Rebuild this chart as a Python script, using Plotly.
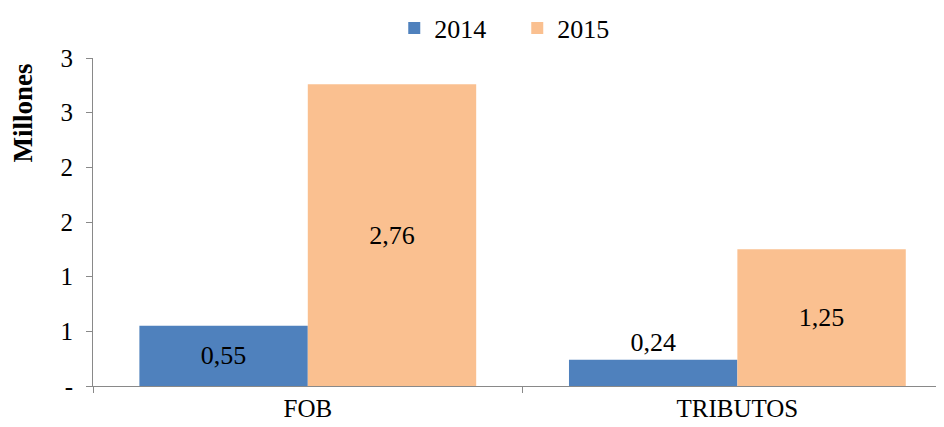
import plotly.graph_objects as go

categories = ["FOB", "TRIBUTOS"]
series_names = ["2014", "2015"]
values_2014 = [0.55, 0.24]
values_2015 = [2.76, 1.25]
labels_2014 = ["0,55", "0,24"]
labels_2015 = ["2,76", "1,25"]
y_tickvals = [0, 0.5, 1, 1.5, 2, 2.5, 3]
y_ticktext = ["-", "1", "1", "2", "2", "3", "3"]

FONT = "Liberation Serif"
LBL = 26

fig = go.Figure()
fig.add_trace(go.Bar(
    x=categories, y=values_2014, name=series_names[0],
    marker=dict(color="#4F81BD", line=dict(width=0)),
    text=labels_2014, textposition=["inside", "outside"],
    insidetextanchor="middle", cliponaxis=False,
    outsidetextfont=dict(family=FONT, size=LBL, color="#000000"),
    insidetextfont=dict(family=FONT, size=LBL, color="#000000"),
    textangle=0,
))
fig.add_trace(go.Bar(
    x=categories, y=values_2015, name=series_names[1],
    marker=dict(color="#FAC090", line=dict(width=0)),
    text=labels_2015, textposition="inside",
    insidetextanchor="middle",
    insidetextfont=dict(family=FONT, size=LBL, color="#000000"),
    textangle=0,
))

fig.update_layout(
    width=944, height=427,
    margin=dict(l=85, r=8, t=50, b=49, autoexpand=False),
    paper_bgcolor="white", plot_bgcolor="white",
    barmode="group", bargap=0.216, bargroupgap=0,
    font=dict(family=FONT, size=25, color="#000000"),
    showlegend=True,
    legend=dict(orientation="h", x=0.354, xanchor="left", y=1.0915, yanchor="middle",
                font=dict(family=FONT, size=26, color="#000000"),
                itemwidth=30, entrywidth=78, traceorder="normal"),
    xaxis=dict(
        range=[-0.5, 1.481], showgrid=False, showline=True, linecolor="#898989", linewidth=1,
        ticks="outside", ticklen=6, tickcolor="#898989", tickson="boundaries",
        tickfont=dict(family=FONT, size=25, color="#000000"),
        fixedrange=True, automargin=False,
    ),
    yaxis=dict(
        range=[0, 3], tickvals=y_tickvals, ticktext=y_ticktext, showgrid=False,
        showline=True, linecolor="#898989", linewidth=1,
        ticks="outside", ticklen=6, tickcolor="#898989",
        tickfont=dict(family=FONT, size=25, color="#000000"),
        zeroline=False, automargin=False, ticklabelstandoff=8,
    ),
    annotations=[dict(
        text="<b>Millones</b>", xref="paper", yref="paper",
        x=-0.0834, y=1.0, xanchor="center", yanchor="top", textangle=-90, showarrow=False,
        font=dict(family=FONT, size=27, color="#000000"),
        yshift=-4,
    )],
)

fig.write_html("out.html")
